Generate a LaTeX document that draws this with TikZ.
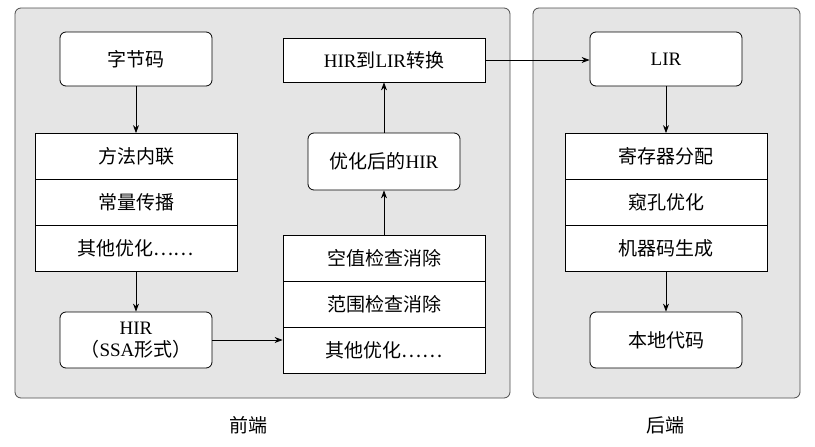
\documentclass[tikz,border=0pt]{standalone}
\usepackage{fontspec}
\setmainfont{Liberation Serif}
\newfontfamily\cjk{Noto Sans CJK SC}
\usetikzlibrary{arrows.meta}
\begin{document}
\begin{tikzpicture}[x=1pt,y=-1pt,
  panel/.style={draw=black!70,fill=black!10,rounded corners=6pt,line width=0.8pt},
  rbox/.style={draw,fill=white,rounded corners=6pt,line width=0.8pt,font=\fontsize{19}{22}\selectfont,align=center,inner sep=1pt},
  sbox/.style={draw,fill=white,line width=0.8pt,font=\fontsize{19}{22}\selectfont},
  arr/.style={-{Stealth[length=8pt,width=6pt]},line width=0.8pt},
  lab/.style={font=\fontsize{19}{22}\selectfont\cjk}]
\useasboundingbox (0,0) rectangle (815,447);
\draw[panel] (15,8) rectangle (510,398);
\draw[panel] (533,8) rectangle (800,398);
\node[lab] (fe) at (248,425) {前端};
\node[lab] (be) at (665,425) {后端};
% left column
\node[rbox,minimum width=152pt,minimum height=54pt] (bc) at (136,59) {\cjk 字节码};
\node[sbox,minimum width=202pt,minimum height=46pt] (m1) at (136,156.5) {\cjk 方法内联};
\node[sbox,minimum width=202pt,minimum height=46pt] (m2) at (136,202.5) {\cjk 常量传播};
\node[sbox,minimum width=202pt,minimum height=46pt] (m3) at (136,248.5) {\cjk 其他优化……};
\node[rbox,minimum width=152pt,minimum height=56pt] (hir) at (136,340) {HIR\\{\cjk （}SSA{\cjk 形式）}};
% middle column
\node[sbox,minimum width=202pt,minimum height=46pt] (n1) at (384,258.5) {\cjk 空值检查消除};
\node[sbox,minimum width=202pt,minimum height=46pt] (n2) at (384,304.5) {\cjk 范围检查消除};
\node[sbox,minimum width=202pt,minimum height=46pt] (n3) at (384,350.5) {\cjk 其他优化……};
\node[rbox,minimum width=152pt,minimum height=57pt] (ohir) at (384,161.5) {{\cjk 优化后的}HIR};
\node[sbox,minimum width=202pt,minimum height=44pt] (conv) at (384,60) {HIR{\cjk 到}LIR{\cjk 转换}};
% right column
\node[rbox,minimum width=152pt,minimum height=54pt] (lir) at (666,59) {LIR};
\node[sbox,minimum width=202pt,minimum height=46pt] (r1) at (666,156.5) {\cjk 寄存器分配};
\node[sbox,minimum width=202pt,minimum height=46pt] (r2) at (666,202.5) {\cjk 窥孔优化};
\node[sbox,minimum width=202pt,minimum height=46pt] (r3) at (666,248.5) {\cjk 机器码生成};
\node[rbox,minimum width=152pt,minimum height=56pt] (nat) at (666,340) {\cjk 本地代码};
% arrows
\draw[arr] (bc) -- (m1);
\draw[arr] (m3) -- (hir);
\draw[arr] (hir.east) -- (hir.east -| n3.west);
\draw[arr] (n1) -- (ohir);
\draw[arr] (ohir) -- (conv);
\draw[arr] (conv.east) -- (conv.east -| lir.west);
\draw[arr] (lir) -- (r1);
\draw[arr] (r3) -- (nat);
\end{tikzpicture}
\end{document}
